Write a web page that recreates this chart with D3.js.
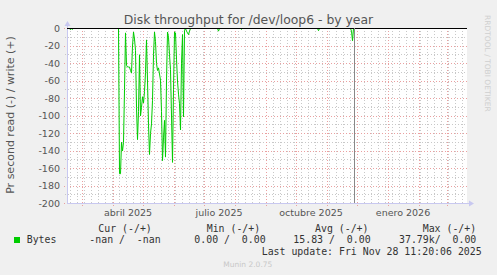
<!DOCTYPE html>
<html>
<head>
<meta charset="utf-8">
<script src="https://cdn.jsdelivr.net/npm/d3@7"></script>
<style>
body { margin: 0; background: #f0f0f0; }
svg { display: block; font-family: "DejaVu Sans", sans-serif; }
.mono { font-family: "DejaVu Sans Mono", monospace; font-size: 9.9px; fill: #333; white-space: pre; }
</style>
</head>
<body>
<div id="chart"></div>
<script>
// time range of the graph (one pixel per day)
var firstDay = "2025-02-14";
var axisEnd = "2026-03-21";
var lastUpdate = "2025-11-28T11:20:06";

// bytes read per second, daily, starting at spikeStart (drawn negative)
var spikeStart = "2025-04-06";
var readValues = [0, 166, 166, 130, 140, 130, 70, 5, 42, 44, 44, 44, 48, 51, 20, 4,
                  12, 25, 90, 127, 95, 30, 100, 90, 78, 85, 72, 50, 13, 60, 110, 144,
                  120, 109, 82, 30, 4, 15, 40, 48, 45, 52, 59, 95, 151, 125, 105, 147,
                  60, 4, 10, 30, 47, 100, 153, 70, 4, 5, 35, 60, 75, 86, 116, 40,
                  7, 101, 2, 0, 3, 5, 7, 3, 0];
// scattered small reads elsewhere
var blipDates = ["2025-02-17", "2025-02-19", "2025-07-15", "2025-08-07", "2025-10-23", "2025-11-25", "2025-11-26"];
var blipValues = [1.5, 1, 3, 1, 2.5, 3, 14];

var yTicks = [0, -20, -40, -60, -80, -100, -120, -140, -160, -180, -200];
var labelDates = ["2025-04-16", "2025-07-16", "2025-10-16", "2026-01-16"];
var labelTexts = ["abril 2025", "julio 2025", "octubre 2025", "enero 2026"];

var legendHeads = ["Cur (-/+)", "Min (-/+)", "Avg (-/+)", "Max (-/+)"];
var legendVals = ["-nan /  -nan", "0.00 /  0.00", "15.83 /  0.00", "37.79k/  0.00"];

var W = 497, H = 275;
var plot = { left: 67, right: 467, top: 28, bottom: 203 };
var parseDay = d3.timeParse("%Y-%m-%d");
var parseFull = d3.timeParse("%Y-%m-%dT%H:%M:%S");

var svg = d3.select("#chart").append("svg").attr("width", W).attr("height", H);

var x = d3.scaleTime()
    .domain([parseDay(firstDay), parseDay(axisEnd)])
    .range([plot.left, plot.right]);
var y = d3.scaleLinear().domain([-200, 0]).range([plot.bottom, plot.top]);

// build the daily series
var nowDate = parseFull(lastUpdate);
var days = d3.timeDay.range(parseDay(firstDay), d3.timeDay.offset(d3.timeDay.floor(nowDate), 1));
var byDay = new Map();
readValues.forEach(function(v, i) {
    byDay.set(+d3.timeDay.offset(parseDay(spikeStart), i), v);
});
blipDates.forEach(function(d, i) { byDay.set(+parseDay(d), blipValues[i]); });
var series = days.map(function(d) { return { date: d, value: byDay.get(+d) || 0 }; });

// canvas
svg.append("rect").attr("x", plot.left).attr("y", plot.top)
    .attr("width", plot.right - plot.left).attr("height", plot.bottom - plot.top)
    .attr("fill", "#fff");

var px = function(v) { return Math.round(v) + 0.5; };
var grid = svg.append("g");

// minor grid
d3.timeMonday.range(x.domain()[0], x.domain()[1]).forEach(function(d) {
    grid.append("line").attr("x1", px(x(d))).attr("x2", px(x(d)))
        .attr("y1", plot.top).attr("y2", plot.bottom + 2)
        .attr("stroke", "#c8c8c8").attr("stroke-dasharray", "1,2");
});
d3.range(-190, 0, 20).forEach(function(v) {
    grid.append("line").attr("x1", plot.left - 2).attr("x2", plot.right)
        .attr("y1", px(y(v))).attr("y2", px(y(v)))
        .attr("stroke", "#c8c8c8").attr("stroke-dasharray", "1,2");
});
// major grid
d3.timeMonth.range(x.domain()[0], x.domain()[1]).forEach(function(d) {
    grid.append("line").attr("x1", px(x(d))).attr("x2", px(x(d)))
        .attr("y1", plot.top).attr("y2", plot.bottom + 3)
        .attr("stroke", "#eaa0a0").attr("stroke-dasharray", "1,2");
});
yTicks.forEach(function(v) {
    grid.append("line").attr("x1", plot.left - 3).attr("x2", plot.right)
        .attr("y1", px(y(v))).attr("y2", px(y(v)))
        .attr("stroke", "#eaa0a0").attr("stroke-dasharray", "1,2");
});

// axes
var axisCol = "#c8c8f0";
svg.append("line").attr("x1", plot.left + 0.5).attr("x2", plot.left + 0.5)
    .attr("y1", plot.bottom).attr("y2", plot.top - 4).attr("stroke", axisCol);
svg.append("line").attr("x1", plot.left).attr("x2", plot.right + 3)
    .attr("y1", plot.bottom + 0.5).attr("y2", plot.bottom + 0.5).attr("stroke", axisCol);
svg.append("path").attr("d", "M64.5,26 L67.5,21 L70.5,26 Z").attr("fill", axisCol);
svg.append("path").attr("d", "M469,200.5 L474,203.5 L469,206.5 Z").attr("fill", axisCol);

// data line
svg.append("path").datum(series)
    .attr("fill", "none").attr("stroke", "#00cc00").attr("stroke-width", 1)
    .attr("d", d3.line().x(function(d) { return x(d.date) + 0.5; }).y(function(d) { return y(-d.value) + 0.5; }));

// zero line
svg.append("line").attr("x1", plot.left).attr("x2", plot.right)
    .attr("y1", px(y(0))).attr("y2", px(y(0))).attr("stroke", "#000");

// last update marker
svg.append("line").attr("x1", px(x(nowDate))).attr("x2", px(x(nowDate)))
    .attr("y1", plot.top).attr("y2", plot.bottom).attr("stroke", "#888");

// tick labels
svg.append("g").selectAll("text").data(yTicks).enter().append("text")
    .attr("x", 60).attr("y", function(d) { return y(d) + 3.8; })
    .attr("text-anchor", "end").attr("font-size", 9.5).attr("fill", "#555")
    .text(function(d) { return d; });
svg.append("g").selectAll("text").data(labelDates).enter().append("text")
    .attr("x", function(d) { return x(parseDay(d)); }).attr("y", 216)
    .attr("text-anchor", "middle").attr("font-size", 9.5).attr("fill", "#555")
    .text(function(d, i) { return labelTexts[i]; });

// titles
svg.append("text").attr("x", 248.5).attr("y", 24.3).attr("text-anchor", "middle")
    .attr("font-size", 12.4).attr("fill", "#555").text("Disk throughput for /dev/loop6 - by year");
svg.append("text").attr("transform", "translate(14.3,115) rotate(-90)")
    .attr("text-anchor", "middle").attr("font-size", 11).attr("fill", "#555")
    .text("Pr second read (-) / write (+)");
svg.append("text").attr("transform", "translate(485,15) rotate(90)")
    .attr("font-size", 7.5).attr("fill", "#cfcfcf").text("RRDTOOL / TOBI OETIKER");

// legend
var headX = [98.3, 206.7, 315, 422.7];
var valX = [89.3, 194.3, 293.3, 399];
legendHeads.forEach(function(t, i) {
    svg.append("text").attr("class", "mono").attr("x", headX[i]).attr("y", 231.5).text(t);
});
svg.append("rect").attr("x", 14).attr("y", 237).attr("width", 6).attr("height", 6).attr("fill", "#00cc00");
svg.append("text").attr("class", "mono").attr("x", 26.7).attr("y", 243.3).text("Bytes");
legendVals.forEach(function(t, i) {
    svg.append("text").attr("class", "mono").attr("x", valX[i]).attr("y", 243.3).text(t);
});
svg.append("text").attr("class", "mono").attr("x", 261.7).attr("y", 255)
    .text("Last update: Fri Nov 28 11:20:06 2025");
svg.append("text").attr("x", 247.8).attr("y", 267.3).attr("text-anchor", "middle")
    .attr("font-size", 7.5).attr("fill", "#c8c8c8").text("Munin 2.0.75");
</script>
</body>
</html>
